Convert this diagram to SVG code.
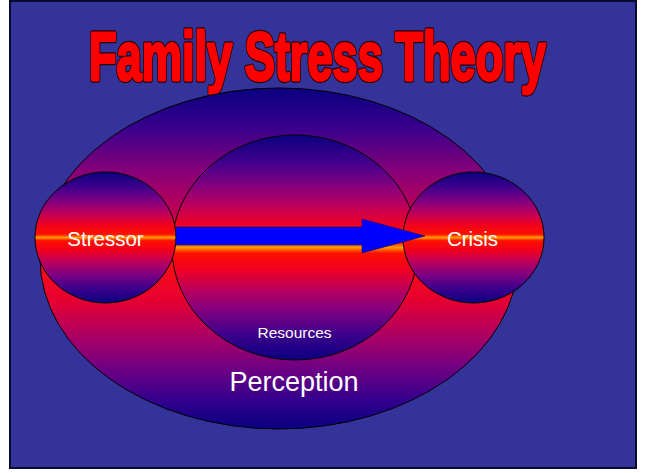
<svg xmlns="http://www.w3.org/2000/svg" width="646" height="473" viewBox="0 0 646 473">
<defs>
<linearGradient id="sunset" x1="0" y1="0" x2="0" y2="1">
<stop offset="0" stop-color="#0a0080"/>
<stop offset="0.12" stop-color="#40008c"/>
<stop offset="0.22" stop-color="#800080"/>
<stop offset="0.32" stop-color="#c0005a"/>
<stop offset="0.4" stop-color="#f00020"/>
<stop offset="0.475" stop-color="#ff1000"/>
<stop offset="0.5" stop-color="#ff9a00"/>
<stop offset="0.525" stop-color="#ff1000"/>
<stop offset="0.6" stop-color="#f00020"/>
<stop offset="0.68" stop-color="#c0005a"/>
<stop offset="0.78" stop-color="#800080"/>
<stop offset="0.88" stop-color="#40008c"/>
<stop offset="1" stop-color="#0a0080"/>
</linearGradient>
<linearGradient id="outerGrad" x1="0" y1="0" x2="0" y2="1">
<stop offset="0" stop-color="#0a0080"/>
<stop offset="0.12" stop-color="#3a008c"/>
<stop offset="0.25" stop-color="#8a0078"/>
<stop offset="0.38" stop-color="#c8004c"/>
<stop offset="0.5" stop-color="#ff1010"/>
<stop offset="0.62" stop-color="#e80030"/>
<stop offset="0.72" stop-color="#b00060"/>
<stop offset="0.82" stop-color="#700084"/>
<stop offset="0.92" stop-color="#30008c"/>
<stop offset="1" stop-color="#0a0080"/>
</linearGradient>
<style>
.shape{stroke:#000;stroke-width:1}
.lbl{font-family:"Liberation Sans",Arial,sans-serif;fill:#fff;text-anchor:middle}
.title{font-family:"Liberation Sans",Arial,sans-serif;font-weight:bold;font-size:46px}
.tOut{fill:#2a0000;stroke:#2a0000;stroke-width:4.5;stroke-linejoin:round}
.tIn{fill:#ff0000;stroke:#ff0000;stroke-width:2.5;stroke-linejoin:round}
</style>
</defs>
<rect x="10" y="1" width="626" height="467" fill="#333399" stroke="#0a0a30" stroke-width="2"/>
<g id="title" transform="translate(89,80) scale(1,1.48)">
<text class="title tOut" x="0" y="0" textLength="457" lengthAdjust="spacingAndGlyphs" vector-effect="non-scaling-stroke">Family Stress Theory</text>
<text class="title tIn" x="0" y="0" textLength="457" lengthAdjust="spacingAndGlyphs" vector-effect="non-scaling-stroke">Family Stress Theory</text>
</g>
<g id="perception">
<ellipse class="shape" cx="279" cy="258.5" rx="239" ry="170.5" fill="url(#outerGrad)"/>
<text class="lbl" x="294" y="390.5" font-size="27">Perception</text>
</g>
<g id="resources">
<ellipse class="shape" cx="295" cy="247.5" rx="123" ry="112.5" fill="url(#sunset)"/>
<text class="lbl" x="294.5" y="337.5" font-size="15.5">Resources</text>
</g>
<g id="stressor">
<ellipse class="shape" cx="105.5" cy="237.5" rx="70.5" ry="65.5" fill="url(#sunset)"/>
<text class="lbl" x="105.5" y="245.5" font-size="20.5">Stressor</text>
</g>
<g id="crisis">
<ellipse class="shape" cx="473.5" cy="237.5" rx="70.5" ry="65.5" fill="url(#sunset)"/>
<text class="lbl" x="472.5" y="246" font-size="20.5">Crisis</text>
</g>
<g id="connectors">
<polygon points="176,227 362,227 362,219 425,236 362,253 362,245 176,245" fill="#0000ff" stroke="#000060" stroke-width="0.5"/>
</g>
</svg>
